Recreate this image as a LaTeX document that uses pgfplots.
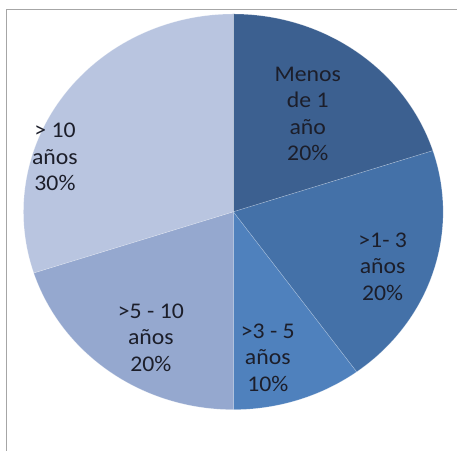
\documentclass[border=0pt]{standalone}
\usepackage{pgfplots}
\pgfplotsset{compat=1.18}
\usepackage{fontspec}
\setmainfont{Carlito}
\definecolor{cA}{RGB}{60,96,144}
\definecolor{cB}{RGB}{68,113,168}
\definecolor{cC}{RGB}{79,129,189}
\definecolor{cD}{RGB}{149,168,207}
\definecolor{cE}{RGB}{185,197,224}
\definecolor{txt}{RGB}{28,30,42}
\begin{document}
\begin{tikzpicture}
% shares (percent), clockwise from the top
\def\pA{20}\def\pB{20}\def\pC{10}\def\pD{20}\def\pE{30}
\pgfmathsetmacro\aA{90-3.6*\pA}
\pgfmathsetmacro\aB{\aA-3.6*\pB}
\pgfmathsetmacro\aC{\aB-3.6*\pC}
\pgfmathsetmacro\aD{\aC-3.6*\pD}
\pgfmathsetmacro\aE{\aD-3.6*\pE}
\def\cx{233.5}\def\cy{239}\def\rx{210}\def\ry{198}
\begin{axis}[
  scale only axis, width=457bp, height=451bp,
  xmin=0, xmax=457, ymin=0, ymax=451,
  hide axis, clip=false,
]
\fill[white] (axis cs:0,0) rectangle (axis cs:457,451);
\addplot[fill=cA, draw=white, draw opacity=0.3, line width=0.5pt, domain=\aA:90, samples=80, variable=\t]
  ({\cx+\rx*cos(\t)},{\cy+\ry*sin(\t)}) -- (axis cs:\cx,\cy) -- cycle;
\addplot[fill=cB, draw=white, draw opacity=0.3, line width=0.5pt, domain=\aB:\aA, samples=80, variable=\t]
  ({\cx+\rx*cos(\t)},{\cy+\ry*sin(\t)}) -- (axis cs:\cx,\cy) -- cycle;
\addplot[fill=cC, draw=white, draw opacity=0.3, line width=0.5pt, domain=\aC:\aB, samples=40, variable=\t]
  ({\cx+\rx*cos(\t)},{\cy+\ry*sin(\t)}) -- (axis cs:\cx,\cy) -- cycle;
\addplot[fill=cD, draw=white, draw opacity=0.3, line width=0.5pt, domain=\aD:\aC, samples=80, variable=\t]
  ({\cx+\rx*cos(\t)},{\cy+\ry*sin(\t)}) -- (axis cs:\cx,\cy) -- cycle;
\addplot[fill=cE, draw=white, draw opacity=0.3, line width=0.5pt, domain=\aE:\aD, samples=100, variable=\t]
  ({\cx+\rx*cos(\t)},{\cy+\ry*sin(\t)}) -- (axis cs:\cx,\cy) -- cycle;
% frame (top and left)
\draw[gray!70, line width=0.8pt] (axis cs:6,0) -- (axis cs:6,442) -- (axis cs:457,442);
% labels
\begin{scope}[every node/.style={align=center, text=txt, font=\fontsize{22.5}{26.5}\selectfont, xscale=1.06}]
\node at (axis cs:308,337) {Menos\\de 1\\año\\20\%};
\node at (axis cs:383,184) {>1- 3\\años\\20\%};
\node at (axis cs:268,93) {>3 - 5\\años\\10\%};
\node at (axis cs:151,113) {>5 - 10\\años\\20\%};
\node at (axis cs:55,294) {> 10\\años\\30\%};
\end{scope}
\end{axis}
\end{tikzpicture}
\end{document}
